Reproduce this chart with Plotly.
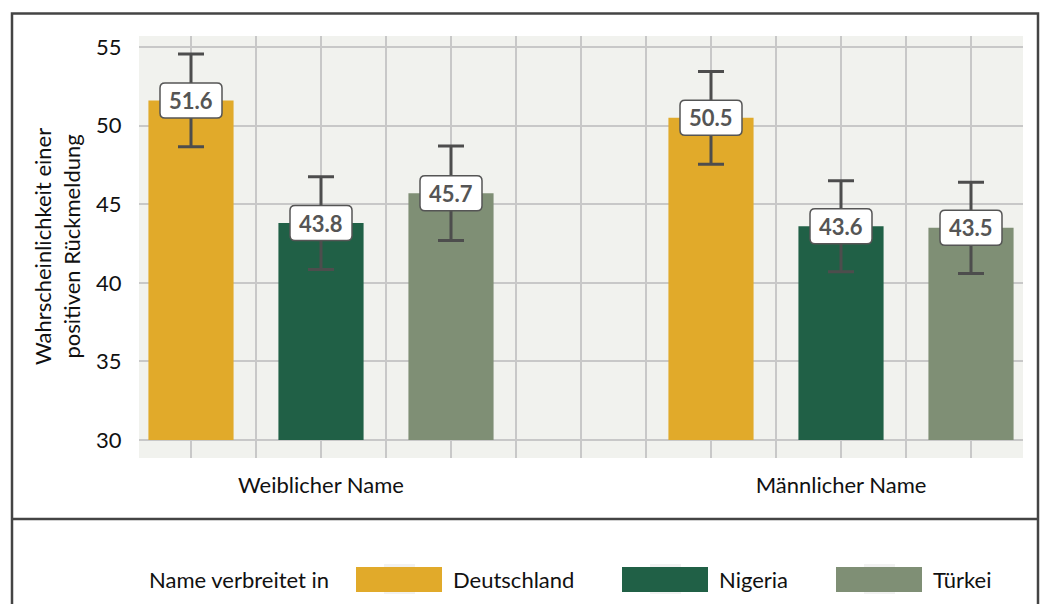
import plotly.graph_objects as go

# ---- data ----
groups = ["Weiblicher Name", "Männlicher Name"]
origins = ["Deutschland", "Nigeria", "Türkei"]
values = {
    "Deutschland": [51.6, 50.5],
    "Nigeria": [43.8, 43.6],
    "Türkei": [45.7, 43.5],
}
errors = {
    "Deutschland": [2.95, 2.95],
    "Nigeria": [2.95, 2.9],
    "Türkei": [3.0, 2.9],
}
colors = {"Deutschland": "#E1AA2A", "Nigeria": "#206046", "Türkei": "#7F8F75"}
group_start = [1, 9]
y_ticks = [30, 35, 40, 45, 50, 55]
legend_title = "Name verbreitet in"
y_title_lines = ["Wahrscheinlichkeit einer", "positiven Rückmeldung"]

FONT = "Lato"
OFF = 8  # page body margin
W, H = 1048 - 2 * OFF, 612 - 2 * OFF
L, R, T, B = 139 - OFF, 1023 - OFF, 36 - OFF, 458 - OFF  # plot area in pixels


def px2x(px):
    return (px - OFF - L) / (R - L)


def py2y(py):
    return (B - (py - OFF)) / (B - T)


fig = go.Figure()

base = 30
for i, o in enumerate(origins):
    xs = [g + 2 * i for g in group_start]
    fig.add_trace(go.Bar(
        x=xs, y=[v - base for v in values[o]], base=base,
        width=1.31, marker=dict(color=colors[o], line=dict(width=0)),
        name=o, showlegend=False, hoverinfo="skip"))
for i, o in enumerate(origins):
    xs = [g + 2 * i for g in group_start]
    fig.add_trace(go.Scatter(
        x=xs, y=values[o], mode="markers",
        marker=dict(size=1, opacity=0), showlegend=False, hoverinfo="skip",
        error_y=dict(type="data", array=errors[o], visible=True,
                     color="#4D4D4D", thickness=3, width=13)))

shapes = []
annotations = []

# value label boxes (rounded rect in pixels anchored at bar top)
w, h, r = 31, 17.5, 5
path = (f"M {-w+r},{-h} L {w-r},{-h} Q {w},{-h} {w},{-h+r} L {w},{h-r} "
        f"Q {w},{h} {w-r},{h} L {-w+r},{h} Q {-w},{h} {-w},{h-r} "
        f"L {-w},{-h+r} Q {-w},{-h} {-w+r},{-h} Z")
for i, o in enumerate(origins):
    for g, v in zip(group_start, values[o]):
        x = g + 2 * i
        shapes.append(dict(type="path", xref="x", yref="y",
                           xsizemode="pixel", ysizemode="pixel",
                           xanchor=x, yanchor=v, path=path,
                           fillcolor="white", line=dict(color="#555555", width=1.5),
                           layer="above"))
        annotations.append(dict(x=x, y=v, xref="x", yref="y", text=f"<b>{v:.1f}</b>",
                                showarrow=False, font=dict(family=FONT, size=22, color="#555555")))

# y-axis title
annotations.append(dict(x=px2x(57), y=0.5, xref="paper", yref="paper",
                        text="<br>".join(y_title_lines), textangle=-90, showarrow=False,
                        font=dict(family=FONT, size=22, color="#111111"),
                        xanchor="center", yanchor="middle"))

# frame
frame_col = "#444444"
shapes.append(dict(type="rect", xref="paper", yref="paper",
                   x0=px2x(12), x1=px2x(1038), y0=py2y(640), y1=py2y(13.5),
                   line=dict(color=frame_col, width=2.5), fillcolor="rgba(0,0,0,0)", layer="below"))
shapes.append(dict(type="line", xref="paper", yref="paper",
                   x0=px2x(12), x1=px2x(1038), y0=py2y(519), y1=py2y(519),
                   line=dict(color=frame_col, width=2.5)))

# legend (manual)
leg_cy = 579
annotations.append(dict(x=px2x(147), y=py2y(leg_cy), xref="paper", yref="paper",
                        text=legend_title, showarrow=False, xanchor="left", yanchor="middle",
                        font=dict(family=FONT, size=22, color="#111111")))
key_x0 = [356, 622, 836]
for o, kx in zip(origins, key_x0):
    shapes.append(dict(type="rect", xref="paper", yref="paper",
                       x0=px2x(kx + 28), x1=px2x(kx + 59), y0=py2y(594), y1=py2y(564),
                       fillcolor="#F2F2F2", line=dict(width=0)))
    shapes.append(dict(type="rect", xref="paper", yref="paper",
                       x0=px2x(kx), x1=px2x(kx + 86), y0=py2y(592), y1=py2y(567),
                       fillcolor=colors[o], line=dict(width=0)))
    annotations.append(dict(x=px2x(kx + 95), y=py2y(leg_cy), xref="paper", yref="paper",
                            text=o, showarrow=False, xanchor="left", yanchor="middle",
                            font=dict(family=FONT, size=22, color="#111111")))

tickvals_x = list(range(1, 14))
ticktext_x = [""] * 13
ticktext_x[2] = groups[0]
ticktext_x[10] = groups[1]

fig.update_layout(
    width=W, height=H,
    margin=dict(l=L, r=W - R, t=T, b=H - B),
    paper_bgcolor="white", plot_bgcolor="#F1F2EE",
    barmode="overlay",
    shapes=shapes, annotations=annotations,
    font=dict(family=FONT, size=22, color="#111111"),
    xaxis=dict(range=[0.2, 13.8], tickvals=tickvals_x, ticktext=ticktext_x,
               showgrid=True, gridcolor="#C8C8C8", gridwidth=1.5, zeroline=False,
               ticks="outside", ticklen=8, tickcolor="rgba(0,0,0,0)",
               tickfont=dict(family=FONT, size=22, color="#111111"), fixedrange=True),
    yaxis=dict(range=[28.86, 55.7], tickvals=y_ticks,
               showgrid=True, gridcolor="#C8C8C8", gridwidth=1.5, zeroline=False,
               ticks="outside", ticklen=12, tickcolor="rgba(0,0,0,0)",
               tickfont=dict(family=FONT, size=22, color="#111111"), fixedrange=True),
)

fig.write_html("out.html")
